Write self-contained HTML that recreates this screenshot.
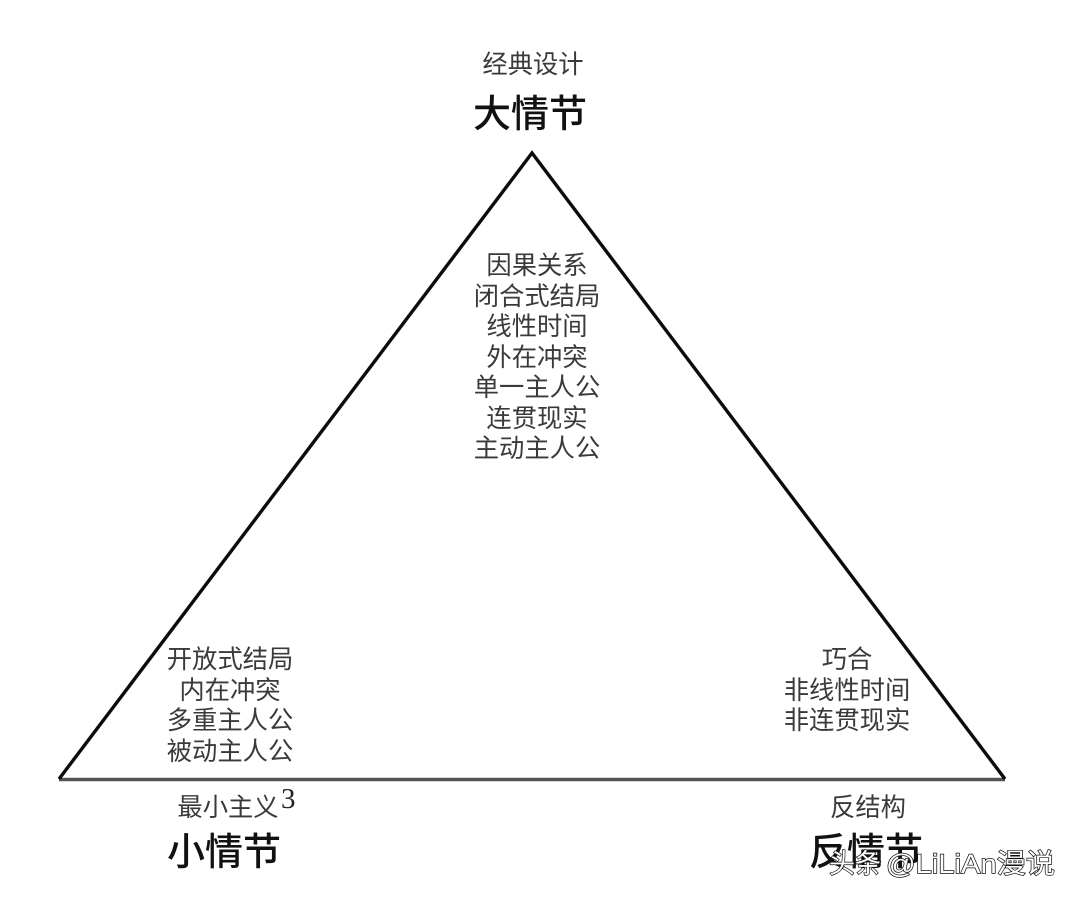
<!DOCTYPE html>
<html><head><meta charset="utf-8">
<style>
html,body{margin:0;padding:0;background:#fff;width:1080px;height:902px;overflow:hidden}
svg{display:block;position:absolute;left:0;top:0}
.t{font-size:25.3px;fill:#3a3a3a;text-anchor:middle;font-family:"Noto Sans CJK SC",sans-serif;font-weight:400}
.h{font-size:38px;fill:#111;text-anchor:middle;font-family:"Noto Sans CJK SC",sans-serif;font-weight:500}
.w{font-family:"Liberation Sans","Noto Sans CJK SC",sans-serif;font-size:27px;fill:#fff;stroke:#111;stroke-width:1.4px;paint-order:stroke}
</style></head><body>
<svg width="1080" height="902" viewBox="0 0 1080 902" xmlns="http://www.w3.org/2000/svg">
<rect width="1080" height="902" fill="#fff"/>
<line x1="59" y1="779.5" x2="1005" y2="779.5" stroke="#555" stroke-width="3.4"/>
<polyline points="59,779 532,153 1005,779" fill="none" stroke="#0c0c0c" stroke-width="3.4"/>
<text class="t" x="533" y="73">经典设计</text>
<text class="h" x="530" y="127">大情节</text>
<text class="t" x="537" y="274">因果关系</text>
<text class="t" x="537" y="305">闭合式结局</text>
<text class="t" x="537" y="335">线性时间</text>
<text class="t" x="537" y="366">外在冲突</text>
<text class="t" x="537" y="396">单一主人公</text>
<text class="t" x="537" y="427">连贯现实</text>
<text class="t" x="537" y="457">主动主人公</text>
<text class="t" x="230" y="668">开放式结局</text>
<text class="t" x="230" y="699">内在冲突</text>
<text class="t" x="230" y="729">多重主人公</text>
<text class="t" x="230" y="760">被动主人公</text>
<text class="t" x="847" y="668">巧合</text>
<text class="t" x="847" y="699">非线性时间</text>
<text class="t" x="847" y="729">非连贯现实</text>
<text class="t" x="228" y="816">最小主义</text>
<text x="281" y="808" style="font-family:'Liberation Serif',serif;font-size:29px;fill:#222">3</text>
<text class="t" x="868" y="816">反结构</text>
<text class="h" x="224" y="865">小情节</text>
<text class="h" x="866" y="865">反情节</text>
<text class="w" x="829" y="873" textLength="52" lengthAdjust="spacingAndGlyphs">头条</text>
<text class="w" x="886" y="873" textLength="169" lengthAdjust="spacingAndGlyphs">@LiLiAn漫说</text>
</svg>
</body></html>
